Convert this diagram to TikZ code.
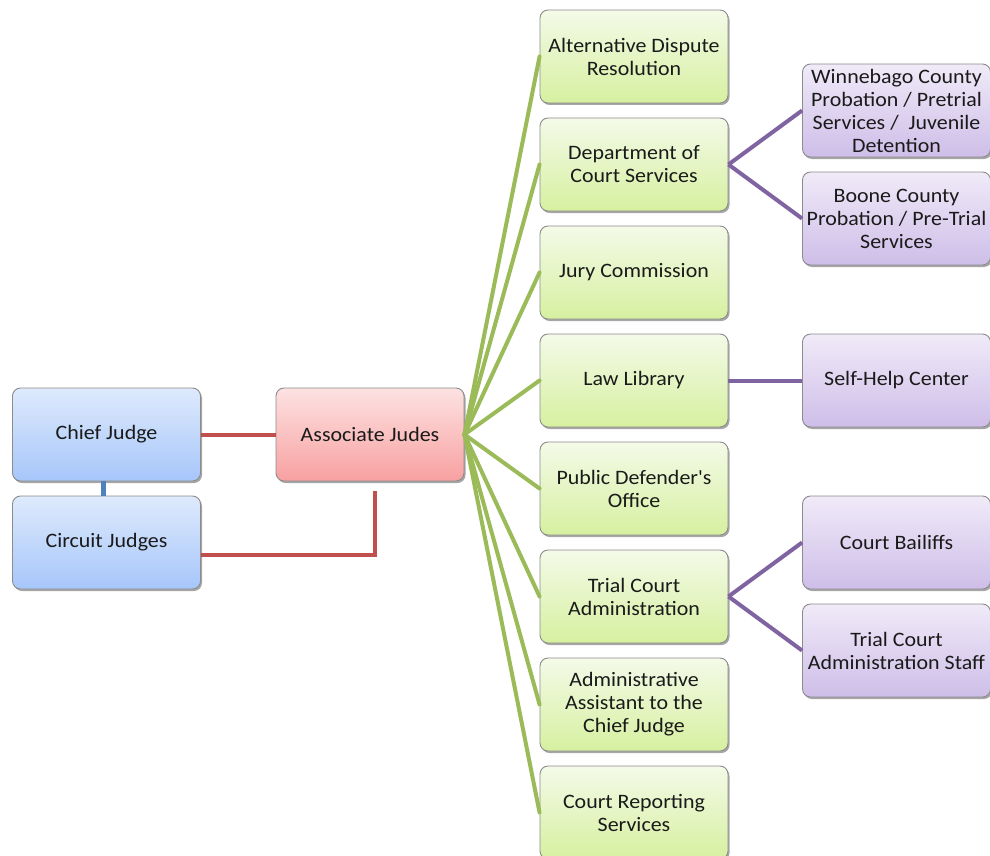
\documentclass[tikz,border=0pt]{standalone}
\usepackage{fontspec}
\newfontfamily\calfont{Carlito}[FakeStretch=1.07]
\usetikzlibrary{shadows}
\definecolor{lnred}{HTML}{C0504D}
\definecolor{lngreen}{HTML}{9BBB59}
\definecolor{lnpurple}{HTML}{8064A2}
\definecolor{lnblue}{HTML}{4F81BD}
\definecolor{txt}{HTML}{1A1A1A}
\tikzset{
  box/.style={draw=black!45, line width=0.9pt, rounded corners=8pt, minimum width=188pt, minimum height=93pt,
    inner sep=2pt, align=center, text=txt, font=\calfont\fontsize{20.5}{23}\selectfont,
    drop shadow={shadow xshift=1.5pt, shadow yshift=-2pt, opacity=0.35, fill=black}},
  bluebox/.style={box, top color={rgb,255:red,222;green,234;blue,252}, bottom color={rgb,255:red,166;green,198;blue,250}},
  redbox/.style={box, top color={rgb,255:red,253;green,226;blue,226}, bottom color={rgb,255:red,248;green,160;blue,160}},
  greenbox/.style={box, top color={rgb,255:red,244;green,250;blue,232}, bottom color={rgb,255:red,214;green,240;blue,160}},
  purplebox/.style={box, top color={rgb,255:red,240;green,234;blue,248}, bottom color={rgb,255:red,206;green,190;blue,232}},
  redline/.style={draw=lnred, line width=4pt},
  greenline/.style={draw=lngreen, line width=4pt},
  purpleline/.style={draw=lnpurple, line width=4pt},
  blueline/.style={draw=lnblue, line width=5pt},
}
\begin{document}
\begin{tikzpicture}[x=1pt,y=-1pt]
\useasboundingbox (0,0) rectangle (990,856);
% left
\node[bluebox] (chief) at (106.5,434.5) {Chief Judge};
\node[bluebox] (circuit) at (106.5,542.5) {Circuit Judges};
\node[redbox] (assoc) at (370,434.5) {Associate Judes};
% green column
\node[greenbox] (adr) at (634,56.5) {Alternative Dispute\\Resolution};
\node[greenbox] (dcs) at (634,164.5) {Department of\\Court Services};
\node[greenbox] (jury) at (634,272.5) {Jury Commission};
\node[greenbox] (law) at (634,380.5) {Law Library};
\node[greenbox] (pdo) at (634,488.5) {Public Defender's\\Office};
\node[greenbox] (tca) at (634,596.5) {Trial Court\\Administration};
\node[greenbox] (aa) at (634,704.5) {Administrative\\Assistant to the\\Chief Judge};
\node[greenbox] (crs) at (634,812.5) {Court Reporting\\Services};
% purple column
\node[purplebox] (win) at (896.5,110.5) {Winnebago County\\Probation / Pretrial\\Services /~~Juvenile\\Detention};
\node[purplebox] (boone) at (896.5,218.5) {Boone County\\Probation / Pre-Trial\\Services};
\node[purplebox] (self) at (896.5,380.5) {Self-Help Center};
\node[purplebox] (bail) at (896.5,542.5) {Court Bailiffs};
\node[purplebox] (staff) at (896.5,650.5) {Trial Court\\Administration Staff};
% connectors
\coordinate (bend) at (375,555);
\coordinate (stub) at (375,491);
\draw[redline] (chief.east) -- (assoc.west);
\draw[redline] (circuit.east |- bend) -- (bend) -- (stub);
\draw[blueline] ([xshift=-3.5pt]chief.south) -- ([xshift=-3.5pt]circuit.north);
\foreach \n in {adr,dcs,jury,law,pdo,tca,aa,crs}{
  \draw[greenline, line cap=round] (assoc.east) -- (\n.west);
}
\draw[purpleline] (dcs.east) -- (win.west);
\draw[purpleline] (dcs.east) -- (boone.west);
\draw[purpleline] (law.east) -- (self.west);
\draw[purpleline] (tca.east) -- (bail.west);
\draw[purpleline] (tca.east) -- (staff.west);
\end{tikzpicture}
\end{document}
